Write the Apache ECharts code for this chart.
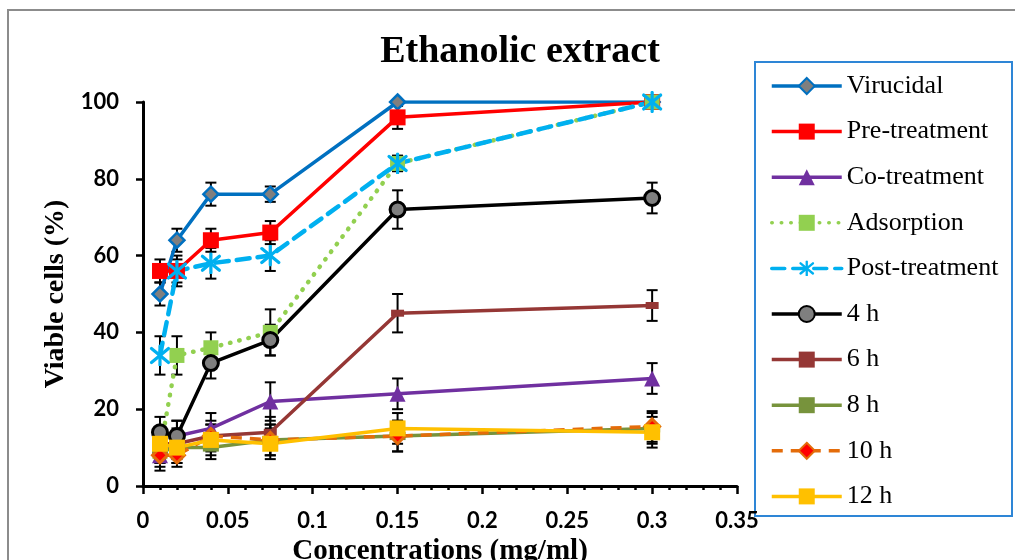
<!DOCTYPE html>
<html>
<head>
<meta charset="utf-8">
<script src="https://cdn.jsdelivr.net/npm/echarts@6/dist/echarts.min.js"></script>
<style>html,body{margin:0;padding:0;background:#fff;}#c{width:1015px;height:560px;}</style>
</head>
<body>
<div id="c"></div>
<script>
// ---- data ----
const conc = [0.01, 0.02, 0.04, 0.075, 0.15, 0.3];
const virucidal     = [50, 64, 76, 76, 100, 100];
const preTreatment  = [56, 56, 64, 66, 96, 100];
const coTreatment   = [8, 13, 15, 22, 24, 28];
const adsorption    = [9, 34, 36, 40, 84, 100];
const postTreatment = [34, 56, 58, 60, 84, 100];
const h4  = [14, 13, 32, 38, 72, 75];
const h6  = [11, 11, 13, 14, 45, 47];
const h8  = [9, 10, 10, 12, 13, 15];
const h10 = [8, 8, 13, 12, 13, 15.5];
const h12 = [11, 10, 12, 11, 15, 14];
// error bar half-widths
const errVir  = [3, 3, 3, 2, 0, 0];
const errPre  = [3, 3, 3, 3, 3, 0];
const errCo   = [4, 4, 4, 5, 4, 4];
const errAds  = [3, 5, 4, 6, 2, 0];
const errPost = [5, 4, 4, 4, 2, 0];
const err4  = [4, 4, 4, 4, 5, 4];
const err6  = [4, 4, 4, 4, 5, 4];
const err8  = [3, 4, 3, 4, 4, 4];
const err10 = [3, 3, 3, 4, 4, 4];
const err12 = [4, 4, 4, 4, 4, 4];
const seriesNames = ['Virucidal', 'Pre-treatment', 'Co-treatment', 'Adsorption', 'Post-treatment', '4 h', '6 h', '8 h', '10 h', '12 h'];
const titleText = 'Ethanolic extract';
const xTitle = 'Concentrations (mg/ml)';
const yTitle = 'Viable cells (%)';

// ---- styles ----
const asterisk = 'image://data:image/svg+xml;utf8,' + encodeURIComponent(
  '<svg xmlns="http://www.w3.org/2000/svg" width="22" height="22" viewBox="0 0 22 22">' +
  '<g stroke="#00B0F0" stroke-width="3.2" stroke-linecap="round">' +
  '<line x1="11" y1="1.5" x2="11" y2="20.5"/><line x1="2.5" y1="4" x2="19.5" y2="18"/><line x1="2.5" y1="18" x2="19.5" y2="4"/></g></svg>');

const styles = [
  {line: {color: '#0070C0', width: 3.5}, symbol: 'diamond', size: 15, item: {color: '#7F7F7F', borderColor: '#0070C0', borderWidth: 2.5}},
  {line: {color: '#FF0000', width: 3.5}, symbol: 'rect', size: 16, item: {color: '#FF0000'}},
  {line: {color: '#7030A0', width: 3.5}, symbol: 'triangle', size: 16, item: {color: '#7030A0'}},
  {line: {color: '#92D050', width: 4.5, type: [0.5, 9], cap: 'round'}, symbol: 'rect', size: 15, item: {color: '#92D050'}},
  {line: {color: '#00B0F0', width: 4.5, type: [13, 8], cap: 'round'}, symbol: asterisk, size: 22, item: {color: '#00B0F0'}},
  {line: {color: '#000000', width: 3.5}, symbol: 'circle', size: 15, item: {color: '#7F7F7F', borderColor: '#000000', borderWidth: 3}},
  {line: {color: '#953735', width: 3.5}, symbol: 'rect', size: [13, 7], item: {color: '#953735'}},
  {line: {color: '#77933C', width: 3.5}, symbol: 'rect', size: [16, 8], item: {color: '#77933C'}},
  {line: {color: '#E46C0A', width: 3.5, type: [11, 8]}, symbol: 'diamond', size: 15, item: {color: '#FF0000', borderColor: '#E46C0A', borderWidth: 3}},
  {line: {color: '#FFC000', width: 3.5}, symbol: 'rect', size: 16, item: {color: '#FFC000'}}
];

const values = [virucidal, preTreatment, coTreatment, adsorption, postTreatment, h4, h6, h8, h10, h12];
const errors = [errVir, errPre, errCo, errAds, errPost, err4, err6, err8, err10, err12];

const errData = [];
values.forEach((vals, s) => {
  vals.forEach((v, i) => {
    const e = errors[s][i];
    if (e > 0) errData.push([conc[i], v - e, v + e]);
  });
});

const series = [{
  type: 'custom',
  name: 'err',
  z: 3,
  silent: true,
  data: errData,
  encode: {x: 0, y: [1, 2]},
  renderItem: function (params, api) {
    const x = api.value(0);
    const lo = api.coord([x, api.value(1)]);
    const hi = api.coord([x, api.value(2)]);
    const w = 5.5;
    const st = {stroke: '#000', lineWidth: 2};
    return {type: 'group', children: [
      {type: 'line', shape: {x1: lo[0], y1: lo[1], x2: hi[0], y2: hi[1]}, style: st},
      {type: 'line', shape: {x1: lo[0] - w, y1: lo[1], x2: lo[0] + w, y2: lo[1]}, style: st},
      {type: 'line', shape: {x1: hi[0] - w, y1: hi[1], x2: hi[0] + w, y2: hi[1]}, style: st}
    ]};
  }
}];

seriesNames.forEach((name, s) => {
  const st = styles[s];
  series.push({
    type: 'line',
    name: name,
    z: 4,
    data: conc.map((c, i) => [c, values[s][i]]),
    symbol: st.symbol,
    symbolSize: st.size,
    showAllSymbol: true,
    lineStyle: st.line,
    itemStyle: st.item,
    emphasis: {disabled: true},
    animation: false
  });
});

const chart = echarts.init(document.getElementById('c'));
chart.setOption({
  animation: false,
  backgroundColor: '#fff',
  grid: {left: 143, right: 278, top: 102, bottom: 74, containLabel: false, outerBoundsMode: 'none'},
  xAxis: {
    type: 'value', min: 0, max: 0.35, interval: 0.05,
    name: xTitle, nameLocation: 'middle', nameGap: 50,
    nameTextStyle: {fontFamily: 'Liberation Serif', fontWeight: 'bold', fontSize: 29, color: '#000'},
    axisLine: {lineStyle: {color: '#000', width: 3}},
    axisTick: {show: true, length: 8, lineStyle: {color: '#000', width: 2.5}},
    minorTick: {show: true, splitNumber: 5, length: 4, lineStyle: {color: '#000', width: 2.5}},
    splitLine: {show: false},
    axisLabel: {fontFamily: 'Lato', fontWeight: 'bold', fontSize: 22, color: '#000', margin: 24}
  },
  yAxis: {
    type: 'value', min: 0, max: 100, interval: 20,
    name: yTitle, nameLocation: 'middle', nameGap: 70,
    nameTextStyle: {fontFamily: 'Liberation Serif', fontWeight: 'bold', fontSize: 28, color: '#000'},
    axisLine: {show: true, lineStyle: {color: '#000', width: 3}},
    axisTick: {show: true, length: 7, lineStyle: {color: '#000', width: 2.5}},
    splitLine: {show: false},
    axisLabel: {fontFamily: 'Lato', fontWeight: 'bold', fontSize: 22, color: '#000', margin: 24}
  },
  legend: {
    orient: 'vertical', left: 770, top: 73, padding: 0,
    itemWidth: 70, itemHeight: 20, itemGap: 19.6,
    data: seriesNames,
    lineStyle: {width: 3.5},
    textStyle: {fontFamily: 'Liberation Serif', fontSize: 26, lineHeight: 26, color: '#000'},
    selectedMode: false
  },
  graphic: [
    {type: 'rect', z: -1, shape: {x: 8, y: 10, width: 1100, height: 700}, style: {fill: 'none', stroke: '#8C8C8C', lineWidth: 2}},
    {type: 'rect', z: 0, shape: {x: 755, y: 62, width: 257, height: 454}, style: {fill: '#fff', stroke: '#2E86D6', lineWidth: 2}},
    {type: 'text', z: 10, x: 520, y: 52, style: {text: titleText, fontFamily: 'Liberation Serif', fontWeight: 'bold', fontSize: 38, fill: '#000', align: 'center', verticalAlign: 'middle'}}
  ],
  series: series
});
</script>
</body>
</html>
